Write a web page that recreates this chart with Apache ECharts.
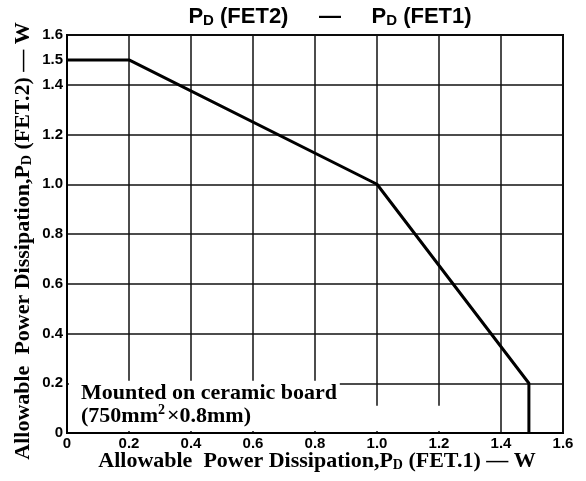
<!DOCTYPE html>
<html>
<head>
<meta charset="utf-8">
<script src="https://cdn.jsdelivr.net/npm/echarts@6/dist/echarts.min.js"></script>
<style>
html, body { margin: 0; padding: 0; background: #fff; }
#chart { width: 586px; height: 481px; }
</style>
</head>
<body>
<div id="chart"></div>
<script>
// derating curve
var fet1 = [0, 0.2, 1.0, 1.49, 1.49];
var fet2 = [1.5, 1.5, 1.0, 0.2, 0];
var yLabels = [0, 0.2, 0.4, 0.6, 0.8, 1.0, 1.2, 1.4, 1.5, 1.6];
var xLabels = [0, 0.2, 0.4, 0.6, 0.8, 1.0, 1.2, 1.4, 1.6];

var myChart = echarts.init(document.getElementById('chart'));

var points = [];
for (var i = 0; i < fet1.length; i++)
{
    points.push([fet1[i], fet2[i]]);
}

function fmt(v)
{
    return v === 0 ? '0' : v.toFixed(1);
}

var serif = '"Liberation Serif", "DejaVu Serif", serif';
var sans = '"Liberation Sans", Arial, sans-serif';

var option = {
    animation: false,
    backgroundColor: '#fff',
    title: {
        text: 'P{sub|D} (FET2)     —     P{sub|D} (FET1)',
        left: 325,
        textAlign: 'center',
        top: 0,
        textStyle: {
            fontFamily: sans,
            fontSize: 22,
            fontWeight: 'bold',
            color: '#000',
            rich: {
                sub: { fontFamily: sans, fontSize: 15, fontWeight: 'bold', color: '#000', verticalAlign: 'bottom', padding: [8, 0, 0, 0] }
            }
        }
    },
    grid: {
        left: 67, right: 23, top: 35, bottom: 48,
        show: true, borderColor: '#000', borderWidth: 2
    },
    xAxis: {
        type: 'value', min: 0, max: 1.6, interval: 0.2,
        axisLine: { show: true, lineStyle: { color: '#000', width: 2 } },
        axisTick: { show: false },
        axisLabel: {
            customValues: xLabels,
            formatter: fmt, color: '#000', fontFamily: sans, fontWeight: 'bold', fontSize: 15, margin: 3
        },
        splitLine: { lineStyle: { color: '#111', width: 1.5 } }
    },
    yAxis: {
        type: 'value', min: 0, max: 1.6, interval: 0.2,
        axisLine: { show: true, lineStyle: { color: '#000', width: 2 } },
        axisTick: { show: false },
        axisLabel: {
            customValues: yLabels,
            formatter: fmt, color: '#000', fontFamily: sans, fontWeight: 'bold', fontSize: 15, margin: 4
        },
        splitLine: { lineStyle: { color: '#111', width: 1.5 } }
    },
    series: [{
        type: 'line',
        data: points,
        symbol: 'none',
        z: 5,
        lineStyle: { color: '#000', width: 3 }
    }]
};

myChart.setOption(option);

// white patches where the note hides the grid, plus axis titles and note
var p0 = myChart.convertToPixel({ gridIndex: 0 }, [0, 0]);
var p1 = myChart.convertToPixel({ gridIndex: 0 }, [0.88, 0.21]);
var p2 = myChart.convertToPixel({ gridIndex: 0 }, [1.3, 0.11]);

var subRich = { sub: { font: 'bold 14px ' + serif, fill: '#000', padding: [9, 0, 0, 0] } };

myChart.setOption({
    graphic: [
        {
            type: 'rect', z: 3,
            shape: { x: p0[0] + 2, y: p1[1], width: p1[0] - p0[0] - 2, height: p0[1] - p1[1] - 2 },
            style: { fill: '#fff' }
        },
        {
            type: 'rect', z: 3,
            shape: { x: p1[0], y: p2[1], width: p2[0] - p1[0], height: p0[1] - p2[1] - 2 },
            style: { fill: '#fff' }
        },
        {
            type: 'text', z: 4, left: 81, top: 382,
            style: {
                text: 'Mounted on ceramic board\n(750mm{sup|2}×0.8mm)',
                font: 'bold 22px ' + serif, fill: '#000', lineHeight: 23,
                rich: { sup: { font: 'bold 14px ' + serif, fill: '#000', lineHeight: 23, padding: [0, 2, 12, 0] } }
            }
        },
        {
            type: 'text', z: 4, x: 317, y: 461,
            style: {
                text: 'Allowable  Power Dissipation,P{sub|D} (FET.1) — W',
                font: 'bold 22px ' + serif, fill: '#000',
                align: 'center', verticalAlign: 'middle',
                rich: subRich
            }
        },
        {
            type: 'text', z: 4, x: 23, y: 241, rotation: Math.PI / 2,
            style: {
                text: 'Allowable  Power Dissipation,P{sub|D} (FET.2) — W',
                font: 'bold 22px ' + serif, fill: '#000',
                align: 'center', verticalAlign: 'middle',
                rich: subRich
            }
        }
    ]
});
</script>
</body>
</html>
